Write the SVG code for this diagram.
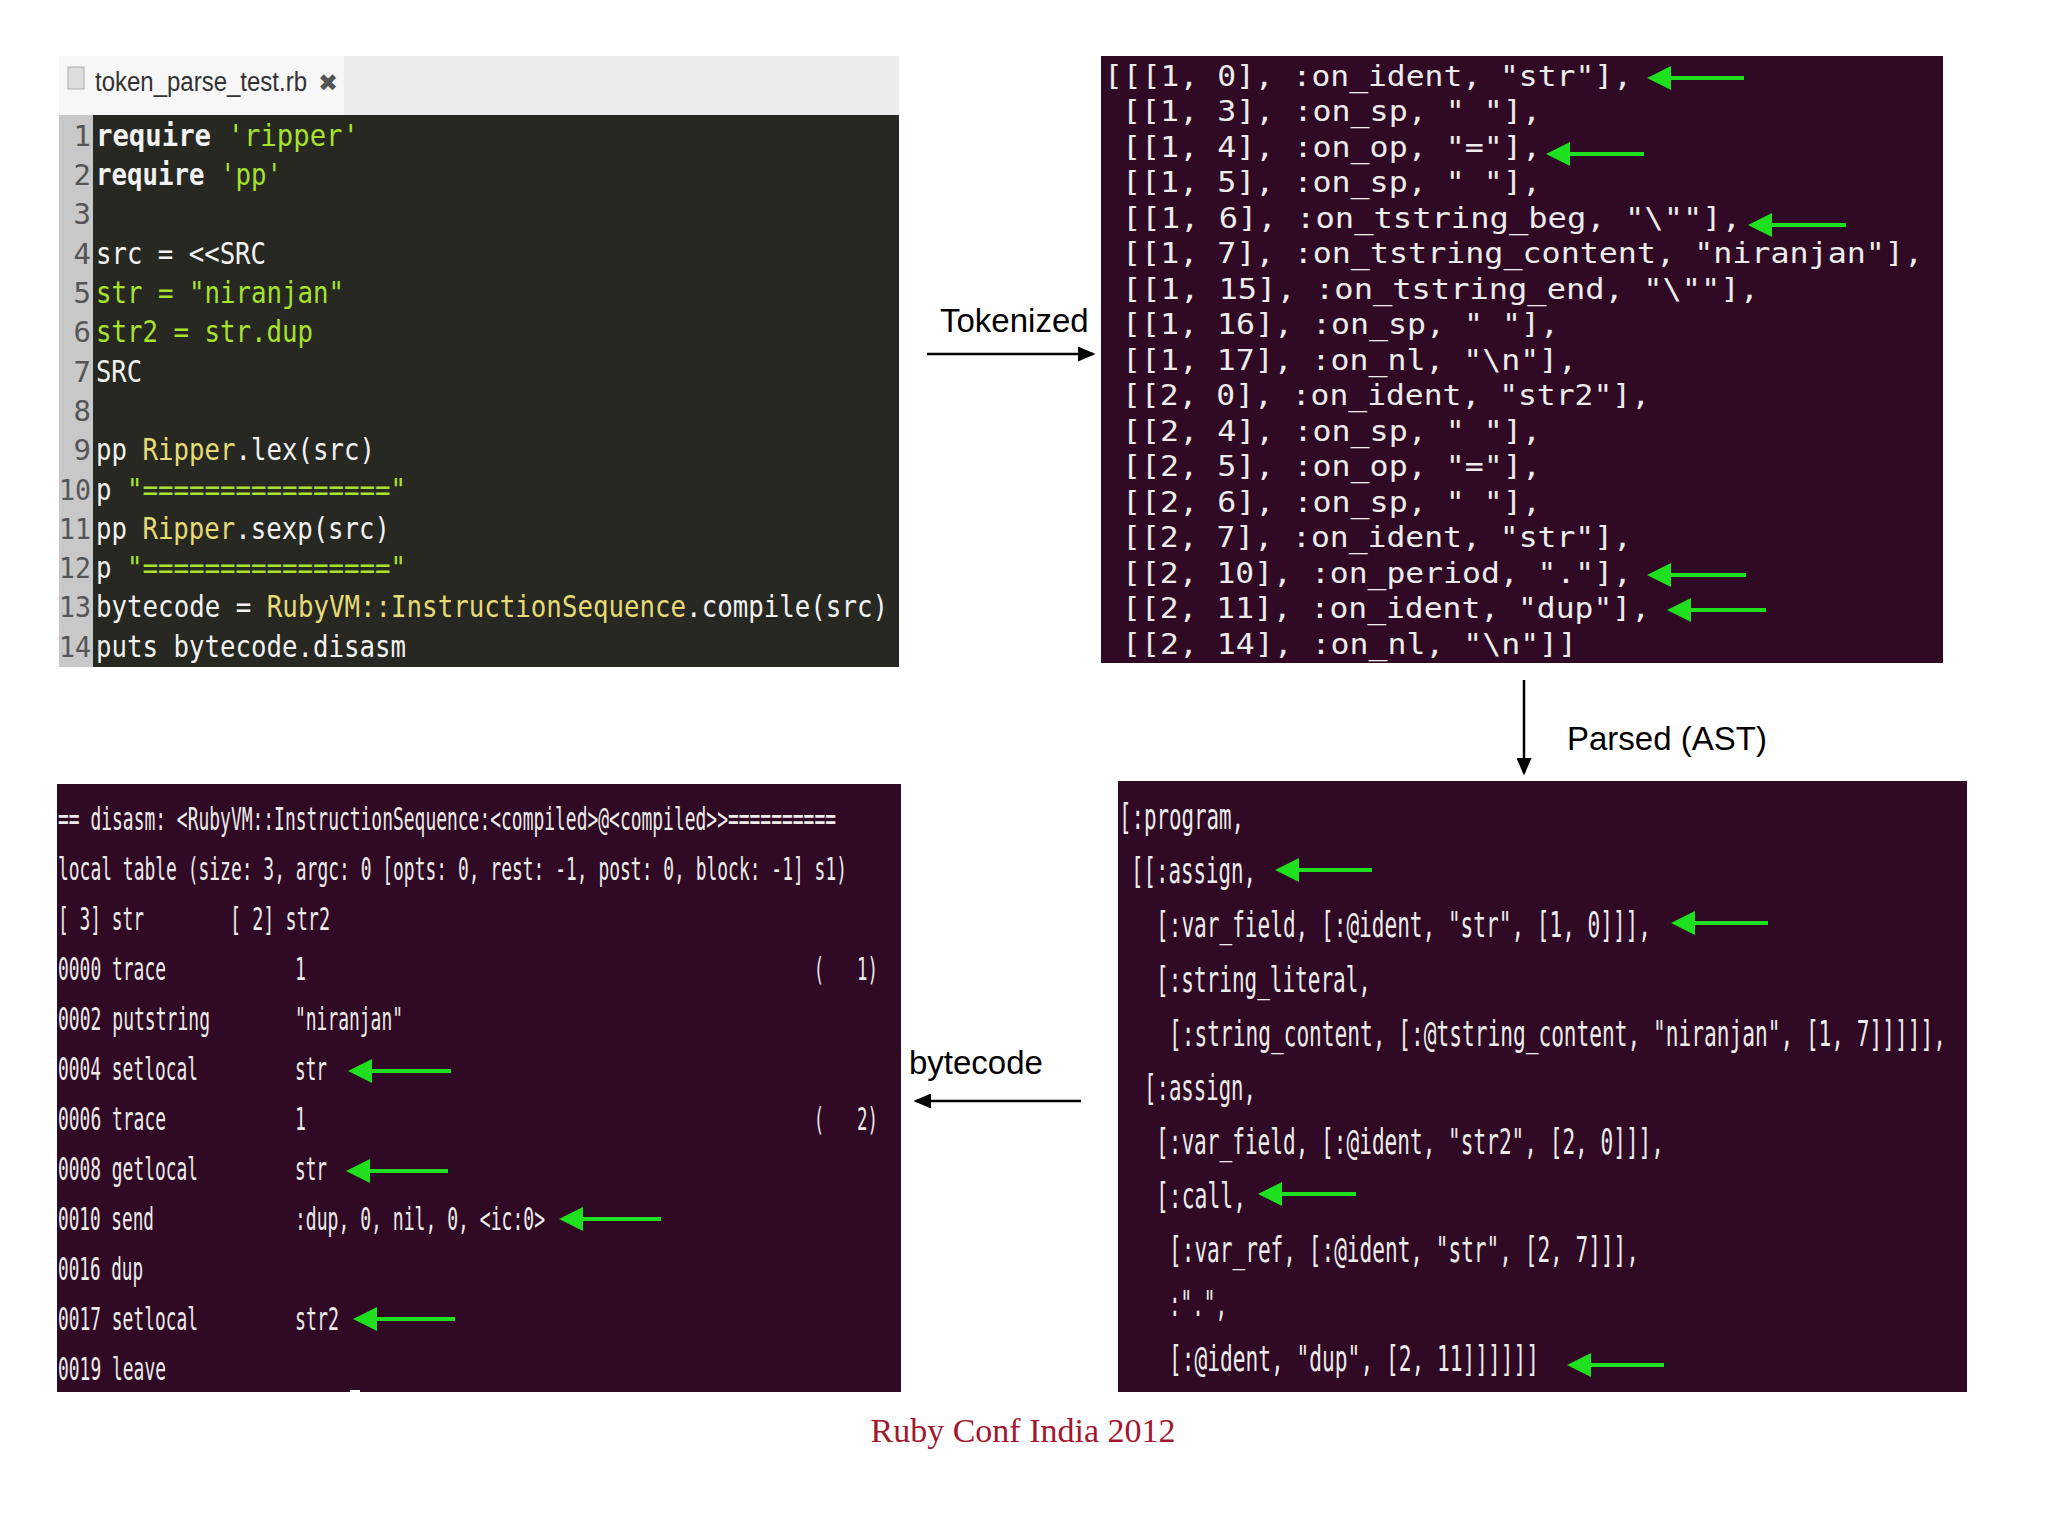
<svg xmlns="http://www.w3.org/2000/svg" width="2048" height="1534" viewBox="0 0 2048 1534">
<style>
.ed{font-family:"DejaVu Sans Mono",monospace;font-size:31px;fill:#f2f2f2}
.tk{font-family:"DejaVu Sans Mono",monospace;font-size:28px;fill:#ececec}
.as{font-family:"DejaVu Sans Mono",monospace;font-size:36px;fill:#ececec}
.bc{font-family:"DejaVu Sans Mono",monospace;font-size:32px;fill:#ececec}
.ln{font-family:"DejaVu Sans Mono",monospace;font-size:29px;fill:#555}
.g{fill:#a6e22e}.y{fill:#e6db74}.b{font-weight:bold}
.lab{font-family:"Liberation Sans",Arial,sans-serif;font-size:33px;fill:#000}
.ga{stroke:#1fe01f;stroke-width:4;fill:none;marker-start:url(#gh)}
.ka{stroke:#000;stroke-width:2.5;fill:none;marker-end:url(#kh)}
</style>
<defs>
<marker id="gh" markerWidth="6" markerHeight="6" refX="1" refY="3" orient="auto" markerUnits="strokeWidth"><path d="M6,0 L0,3 L6,6 Z" fill="#1fe01f"/></marker>
<marker id="kh" markerWidth="7" markerHeight="6" refX="6" refY="3" orient="auto" markerUnits="strokeWidth"><path d="M0,0 L7,3 L0,6 Z" fill="#000"/></marker>
</defs>
<rect width="2048" height="1534" fill="#fff"/>

<g id="editor">
<rect x="59" y="56" width="840" height="59" fill="#ececec"/>
<rect x="59" y="56" width="285" height="59" fill="#f7f7f7"/>
<rect x="68" y="67" width="16" height="22" fill="#ddd" stroke="#aaa"/>
<text x="95" y="91" font-family="Liberation Sans Narrow,Liberation Sans,sans-serif" font-size="27" fill="#333" textLength="212" lengthAdjust="spacingAndGlyphs">token_parse_test.rb</text>
<text x="318" y="91" font-family="DejaVu Sans,sans-serif" font-size="24" fill="#555">✖</text>
<rect x="59" y="115" width="840" height="552" fill="#272822"/>
<rect x="59" y="115" width="34" height="552" fill="#c8c8c8"/>
<g class="ln" text-anchor="end">
<text x="91" y="146">1</text><text x="91" y="185">2</text><text x="91" y="224">3</text><text x="91" y="264">4</text><text x="91" y="303">5</text><text x="91" y="342">6</text><text x="91" y="382">7</text><text x="91" y="421">8</text><text x="91" y="460">9</text><text x="91" y="500" textLength="32" lengthAdjust="spacingAndGlyphs">10</text><text x="91" y="539" textLength="32" lengthAdjust="spacingAndGlyphs">11</text><text x="91" y="578" textLength="32" lengthAdjust="spacingAndGlyphs">12</text><text x="91" y="617" textLength="32" lengthAdjust="spacingAndGlyphs">13</text><text x="91" y="657" textLength="32" lengthAdjust="spacingAndGlyphs">14</text>
</g>
<g class="ed">
<text x="96" y="146" textLength="263" lengthAdjust="spacingAndGlyphs"><tspan class="b">require</tspan> <tspan class="g">'ripper'</tspan></text>
<text x="96" y="185" textLength="186" lengthAdjust="spacingAndGlyphs"><tspan class="b">require</tspan> <tspan class="g">'pp'</tspan></text>
<text x="96" y="264" textLength="170" lengthAdjust="spacingAndGlyphs">src = &lt;&lt;SRC</text>
<text x="96" y="303" class="g" textLength="248" lengthAdjust="spacingAndGlyphs">str = "niranjan"</text>
<text x="96" y="342" class="g" textLength="217" lengthAdjust="spacingAndGlyphs">str2 = str.dup</text>
<text x="96" y="382" textLength="46" lengthAdjust="spacingAndGlyphs">SRC</text>
<text x="96" y="460" textLength="279" lengthAdjust="spacingAndGlyphs">pp <tspan class="y">Ripper</tspan>.lex(src)</text>
<text x="96" y="500" textLength="310" lengthAdjust="spacingAndGlyphs">p <tspan class="g">"================"</tspan></text>
<text x="96" y="539" textLength="294" lengthAdjust="spacingAndGlyphs">pp <tspan class="y">Ripper</tspan>.sexp(src)</text>
<text x="96" y="578" textLength="310" lengthAdjust="spacingAndGlyphs">p <tspan class="g">"================"</tspan></text>
<text x="96" y="617" textLength="792" lengthAdjust="spacingAndGlyphs">bytecode = <tspan class="y">RubyVM::InstructionSequence</tspan>.compile(src)</text>
<text x="96" y="657" textLength="310" lengthAdjust="spacingAndGlyphs">puts bytecode.disasm</text>
</g>
</g>

<g id="tokens">
<rect x="1101" y="56" width="842" height="607" fill="#300a24"/>
<g class="tk">
<text x="1104" y="86" textLength="528" lengthAdjust="spacingAndGlyphs">[[[1, 0], :on_ident, "str"],</text>
<text x="1122" y="121" textLength="419" lengthAdjust="spacingAndGlyphs">[[1, 3], :on_sp, " "],</text>
<text x="1122" y="157" textLength="419" lengthAdjust="spacingAndGlyphs">[[1, 4], :on_op, "="],</text>
<text x="1122" y="192" textLength="419" lengthAdjust="spacingAndGlyphs">[[1, 5], :on_sp, " "],</text>
<text x="1122" y="228" textLength="619" lengthAdjust="spacingAndGlyphs">[[1, 6], :on_tstring_beg, "\""],</text>
<text x="1122" y="263" textLength="801" lengthAdjust="spacingAndGlyphs">[[1, 7], :on_tstring_content, "niranjan"],</text>
<text x="1122" y="299" textLength="637" lengthAdjust="spacingAndGlyphs">[[1, 15], :on_tstring_end, "\""],</text>
<text x="1122" y="334" textLength="437" lengthAdjust="spacingAndGlyphs">[[1, 16], :on_sp, " "],</text>
<text x="1122" y="370" textLength="455" lengthAdjust="spacingAndGlyphs">[[1, 17], :on_nl, "\n"],</text>
<text x="1122" y="405" textLength="528" lengthAdjust="spacingAndGlyphs">[[2, 0], :on_ident, "str2"],</text>
<text x="1122" y="441" textLength="419" lengthAdjust="spacingAndGlyphs">[[2, 4], :on_sp, " "],</text>
<text x="1122" y="476" textLength="419" lengthAdjust="spacingAndGlyphs">[[2, 5], :on_op, "="],</text>
<text x="1122" y="512" textLength="419" lengthAdjust="spacingAndGlyphs">[[2, 6], :on_sp, " "],</text>
<text x="1122" y="547" textLength="510" lengthAdjust="spacingAndGlyphs">[[2, 7], :on_ident, "str"],</text>
<text x="1122" y="583" textLength="510" lengthAdjust="spacingAndGlyphs">[[2, 10], :on_period, "."],</text>
<text x="1122" y="618" textLength="528" lengthAdjust="spacingAndGlyphs">[[2, 11], :on_ident, "dup"],</text>
<text x="1122" y="654" textLength="455" lengthAdjust="spacingAndGlyphs">[[2, 14], :on_nl, "\n"]]</text>
</g>
</g>

<g id="ast">
<rect x="1118" y="781" width="849" height="611" fill="#300a24"/>
<g class="as">
<text x="1119" y="829" textLength="125" lengthAdjust="spacingAndGlyphs">[:program,</text>
<text x="1131" y="883" textLength="125" lengthAdjust="spacingAndGlyphs">[[:assign,</text>
<text x="1156" y="937" textLength="495" lengthAdjust="spacingAndGlyphs">[:var_field, [:@ident, "str", [1, 0]]],</text>
<text x="1156" y="992" textLength="215" lengthAdjust="spacingAndGlyphs">[:string_literal,</text>
<text x="1169" y="1046" textLength="777" lengthAdjust="spacingAndGlyphs">[:string_content, [:@tstring_content, "niranjan", [1, 7]]]]],</text>
<text x="1144" y="1100" textLength="112" lengthAdjust="spacingAndGlyphs">[:assign,</text>
<text x="1156" y="1154" textLength="508" lengthAdjust="spacingAndGlyphs">[:var_field, [:@ident, "str2", [2, 0]]],</text>
<text x="1156" y="1208" textLength="90" lengthAdjust="spacingAndGlyphs">[:call,</text>
<text x="1169" y="1262" textLength="470" lengthAdjust="spacingAndGlyphs">[:var_ref, [:@ident, "str", [2, 7]]],</text>
<text x="1169" y="1316" textLength="58" lengthAdjust="spacingAndGlyphs">:".",</text>
<text x="1169" y="1371" textLength="370" lengthAdjust="spacingAndGlyphs">[:@ident, "dup", [2, 11]]]]]]</text>
</g>
</g>

<g id="bytecode">
<rect x="57" y="784" width="844" height="608" fill="#300a24"/>
<g class="bc">
<text x="58" y="830" textLength="778" lengthAdjust="spacingAndGlyphs">== disasm: &lt;RubyVM::InstructionSequence:&lt;compiled&gt;@&lt;compiled&gt;&gt;==========</text>
<text x="58" y="880" textLength="789" lengthAdjust="spacingAndGlyphs">local table (size: 3, argc: 0 [opts: 0, rest: -1, post: 0, block: -1] s1)</text>
<text x="58" y="930" textLength="86" lengthAdjust="spacingAndGlyphs">[ 3] str</text>
<text x="230" y="930" textLength="100" lengthAdjust="spacingAndGlyphs">[ 2] str2</text>
<text x="58" y="980" textLength="108" lengthAdjust="spacingAndGlyphs">0000 trace</text>
<text x="58" y="1030" textLength="152" lengthAdjust="spacingAndGlyphs">0002 putstring</text>
<text x="58" y="1080" textLength="140" lengthAdjust="spacingAndGlyphs">0004 setlocal</text>
<text x="58" y="1130" textLength="108" lengthAdjust="spacingAndGlyphs">0006 trace</text>
<text x="58" y="1180" textLength="140" lengthAdjust="spacingAndGlyphs">0008 getlocal</text>
<text x="58" y="1230" textLength="96" lengthAdjust="spacingAndGlyphs">0010 send</text>
<text x="58" y="1280" textLength="85" lengthAdjust="spacingAndGlyphs">0016 dup</text>
<text x="58" y="1330" textLength="140" lengthAdjust="spacingAndGlyphs">0017 setlocal</text>
<text x="58" y="1380" textLength="108" lengthAdjust="spacingAndGlyphs">0019 leave</text>
<text x="295" y="980" textLength="11" lengthAdjust="spacingAndGlyphs">1</text>
<text x="295" y="1030" textLength="108" lengthAdjust="spacingAndGlyphs">"niranjan"</text>
<text x="295" y="1080" textLength="32" lengthAdjust="spacingAndGlyphs">str</text>
<text x="295" y="1130" textLength="11" lengthAdjust="spacingAndGlyphs">1</text>
<text x="295" y="1180" textLength="32" lengthAdjust="spacingAndGlyphs">str</text>
<text x="295" y="1230" textLength="250" lengthAdjust="spacingAndGlyphs">:dup, 0, nil, 0, &lt;ic:0&gt;</text>
<text x="295" y="1330" textLength="44" lengthAdjust="spacingAndGlyphs">str2</text>
<text x="814" y="980" textLength="10" lengthAdjust="spacingAndGlyphs">(</text>
<text x="857" y="980" textLength="21" lengthAdjust="spacingAndGlyphs">1)</text>
<text x="814" y="1130" textLength="10" lengthAdjust="spacingAndGlyphs">(</text>
<text x="857" y="1130" textLength="21" lengthAdjust="spacingAndGlyphs">2)</text>
</g>
<rect x="350" y="1390" width="10" height="3" fill="#fff"/>
</g>

<g id="connectors">
<line class="ka" x1="927" y1="354" x2="1093" y2="354"/>
<line class="ka" x1="1524" y1="680" x2="1524" y2="773"/>
<line class="ka" x1="1081" y1="1101" x2="916" y2="1101"/>
<g class="ga">
<line x1="1651" y1="78" x2="1744" y2="78"/>
<line x1="1550" y1="154" x2="1644" y2="154"/>
<line x1="1752" y1="225" x2="1846" y2="225"/>
<line x1="1651" y1="575" x2="1746" y2="575"/>
<line x1="1671" y1="610" x2="1766" y2="610"/>
<line x1="1279" y1="870" x2="1372" y2="870"/>
<line x1="1675" y1="923" x2="1768" y2="923"/>
<line x1="1262" y1="1194" x2="1356" y2="1194"/>
<line x1="1571" y1="1365" x2="1664" y2="1365"/>
<line x1="352" y1="1071" x2="451" y2="1071"/>
<line x1="350" y1="1171" x2="448" y2="1171"/>
<line x1="563" y1="1219" x2="661" y2="1219"/>
<line x1="357" y1="1319" x2="455" y2="1319"/>
</g>
</g>

<text class="lab" x="940" y="332">Tokenized</text>
<text class="lab" x="1567" y="750">Parsed (AST)</text>
<text class="lab" x="909" y="1074">bytecode</text>
<text x="1023" y="1442" text-anchor="middle" font-family="Liberation Serif,serif" font-size="34" fill="#a3172e">Ruby Conf India 2012</text>
</svg>
